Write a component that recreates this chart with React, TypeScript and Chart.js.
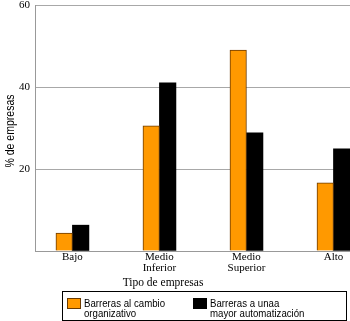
import React, { useEffect, useRef } from "react";
import { Chart, registerables } from "chart.js";

Chart.register(...registerables);

const categories: string[][] = [["Bajo"], ["Medio", "Inferior"], ["Medio", "Superior"], ["Alto"]];
const seriesNames: string[][] = [
  ["Barreras al cambio", "organizativo"],
  ["Barreras a unaa", "mayor automatización"],
];
const cambioOrganizativo = [4.4, 30.5, 49, 16.6];
const mayorAutomatizacion = [6.3, 41, 28.8, 24.9];
const yTicks = [20, 40, 60];
const xTitle = "Tipo de empresas";
const yTitle = "% de empresas";

const ORANGE = "#FF9900";
const ORANGE_BORDER = "#6b3a00";
const BLACK = "#000000";
const SERIF = "'Liberation Serif', 'Times New Roman', serif";
const SANS = "'Liberation Sans', Arial, sans-serif";
const SQUEEZE = 0.84;

const textPlugin = {
  id: "customTexts",
  afterDraw(chart: any) {
    const ctx = chart.ctx as CanvasRenderingContext2D;
    ctx.save();
    // y title
    ctx.fillStyle = "#000";
    ctx.font = `12.5px ${SANS}`;
    ctx.textAlign = "center";
    ctx.textBaseline = "middle";
    ctx.translate(11, 131);
    ctx.rotate(-Math.PI / 2);
    ctx.scale(SQUEEZE, 1);
    ctx.fillText(yTitle, 0, 0);
    ctx.restore();

    ctx.save();
    ctx.fillStyle = "#000";
    ctx.font = `11.5px ${SERIF}`;
    ctx.textAlign = "center";
    ctx.textBaseline = "alphabetic";
    ctx.fillText(xTitle, 163, 286);

    // legend box
    ctx.strokeStyle = "#000";
    ctx.lineWidth = 1;
    ctx.strokeRect(62.5, 291.5, 284, 29);
    const colors = [ORANGE, BLACK];
    const borders = [ORANGE_BORDER, BLACK];
    const swX = [67, 193];
    const txX = [84, 210];
    seriesNames.forEach((lines, i) => {
      ctx.fillStyle = colors[i];
      ctx.fillRect(swX[i], 298, 14, 11);
      ctx.strokeStyle = borders[i];
      ctx.strokeRect(swX[i] + 0.5, 298.5, 13, 10);
      ctx.fillStyle = "#000";
      lines.forEach((ln, j) => {
        ctx.save();
        ctx.translate(txX[i], 306.5 + j * 10);
        ctx.scale(SQUEEZE, 1);
        ctx.font = `11.5px ${SANS}`;
        ctx.textAlign = "left";
        ctx.fillText(ln, 0, 0);
        ctx.restore();
      });
    });
    ctx.restore();
  },
};

export default function App() {
  const ref = useRef<HTMLCanvasElement | null>(null);
  useEffect(() => {
    if (!ref.current) return;
    const chart = new Chart(ref.current, {
      type: "bar",
      data: {
        datasets: [
          {
            label: seriesNames[0].join(" "),
            data: cambioOrganizativo.map((v, i) => ({ x: i, y: v })),
            backgroundColor: ORANGE,
            borderColor: ORANGE_BORDER,
            borderWidth: 1,
            barThickness: 16.5,
          },
          {
            label: seriesNames[1].join(" "),
            data: mayorAutomatizacion.map((v, i) => ({ x: i, y: v })),
            backgroundColor: BLACK,
            borderColor: BLACK,
            borderWidth: 0,
            barThickness: 16.5,
          },
        ],
      },
      options: {
        animation: false,
        responsive: false,
        layout: { padding: { top: 5, left: 0, right: 0, bottom: 0 } },
        plugins: { legend: { display: false }, tooltip: { enabled: false } },
        scales: {
          x: {
            type: "linear",
            offset: false,
            min: -0.43,
            max: 3.19,
            grid: { display: false, drawTicks: false },
            border: { display: true, color: "#999" },
            afterFit: (s: any) => {
              s.height = 70;
              s.paddingLeft = 0;
              s.paddingRight = 0;
            },
            afterBuildTicks: (s: any) => {
              s.ticks = categories.map((_, i) => ({ value: i }));
            },
            ticks: {
              autoSkip: false,
              maxRotation: 0,
              padding: 1,
              color: "#000",
              font: { family: SERIF, size: 11, lineHeight: 1.0 },
              callback: (v: any) => categories[v] ?? "",
            },
          },
          y: {
            min: 0,
            max: 60,
            grid: { color: "#a8a8a8", drawTicks: false, lineWidth: 1 },
            border: { display: true, color: "#999" },
            afterFit: (s: any) => {
              s.width = 35;
              s.paddingTop = 0;
              s.paddingBottom = 0;
            },
            afterBuildTicks: (s: any) => {
              s.ticks = [0, ...yTicks].map((v) => ({ value: v }));
            },
            ticks: {
              padding: 5,
              color: "#000",
              font: { family: SERIF, size: 11 },
              callback: (v: any) => (v === 0 ? "" : String(v)),
            },
          },
        },
      },
      plugins: [textPlugin],
    });
    return () => chart.destroy();
  }, []);
  return (
    <div style={{ position: "fixed", left: 0, top: 0, width: 350, height: 321, background: "#fff" }}>
      <canvas ref={ref} width={350} height={321} />
    </div>
  );
}
